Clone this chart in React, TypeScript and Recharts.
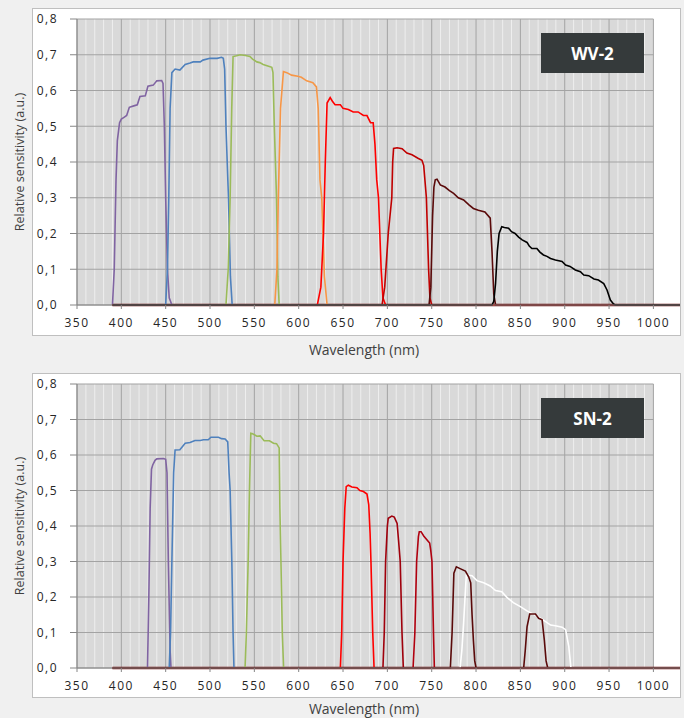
import React from 'react';
import { LineChart, Line, XAxis, YAxis, ReferenceLine, ReferenceArea } from 'recharts';

type Pt = [number, number];

const xTicks = [350, 400, 450, 500, 550, 600, 650, 700, 750, 800, 850, 900, 950, 1000];
const yTicks = [0, 0.1, 0.2, 0.3, 0.4, 0.5, 0.6, 0.7, 0.8];

// WV-2 bands [wavelength nm, relative sensitivity]
const wvCoastal: Pt[] = [[390,0],[392,0.1],[394,0.35],[395.5,0.46],[398,0.51],[400,0.52],[403,0.525],[406,0.53],[409,0.553],[414,0.557],[418,0.56],[421,0.583],[427,0.585],[430,0.612],[436,0.615],[440,0.627],[445.5,0.628],[447,0.62],[448.5,0.5],[450,0.3],[452,0.1],[454,0.02],[457,0],[1030,0]];
const wvBlue: Pt[] = [[390,0],[450,0],[452,0.1],[453.5,0.3],[455,0.55],[457,0.65],[460.6,0.66],[466,0.657],[472,0.673],[477.5,0.677],[481,0.68],[489,0.68],[492,0.685],[500,0.69],[508,0.69],[513,0.693],[515,0.69],[516.5,0.66],[518,0.5],[520.8,0.3],[523,0.08],[525,0],[1030,0]];
const wvGreen: Pt[] = [[390,0],[518,0],[520.5,0.1],[522.7,0.3],[524.5,0.55],[526,0.695],[530,0.697],[534,0.7],[540,0.698],[545,0.695],[548,0.688],[552.8,0.68],[556,0.678],[560,0.673],[566,0.668],[569.7,0.665],[571,0.65],[572.5,0.5],[575,0.3],[576.5,0.08],[578,0],[1030,0]];
const wvYellow: Pt[] = [[390,0],[573,0],[575.5,0.1],[577,0.3],[579.5,0.55],[582.8,0.653],[586.6,0.65],[592,0.643],[599,0.64],[603,0.637],[609,0.627],[616,0.622],[620,0.61],[622,0.55],[624,0.35],[626,0.3],[629,0.08],[632,0],[1030,0]];
const wvRed: Pt[] = [[390,0],[621,0],[625,0.05],[628,0.2],[630,0.4],[632,0.565],[635.5,0.58],[638,0.57],[641,0.56],[647,0.56],[650,0.55],[656,0.547],[661.5,0.54],[667,0.54],[673,0.53],[677,0.53],[681,0.51],[684,0.51],[686,0.45],[688,0.35],[690,0.3],[693,0.1],[695,0.02],[698,0],[1030,0]];
const wvRedEdge: Pt[] = [[390,0],[694,0],[697,0.05],[701,0.2],[705,0.3],[706,0.4],[707,0.438],[711,0.44],[716.6,0.437],[722,0.425],[727.8,0.42],[735,0.41],[739,0.405],[741,0.39],[744,0.3],[746.5,0.1],[748,0.02],[750,0],[1030,0]];
const wvNir1: Pt[] = [[390,0],[747,0],[749,0.05],[751,0.25],[752.5,0.33],[754,0.35],[756,0.352],[759.7,0.336],[765,0.33],[770,0.32],[774.7,0.312],[780,0.3],[786,0.294],[792,0.28],[797,0.27],[802.6,0.265],[810,0.26],[816,0.243],[818,0.15],[820,0.03],[822,0],[1030,0]];
const wvNir2: Pt[] = [[390,0],[818,0],[820,0.01],[822,0.06],[824,0.15],[826,0.2],[829,0.219],[832,0.217],[836.7,0.215],[840,0.205],[844,0.2],[848,0.19],[852,0.182],[857.5,0.175],[860,0.165],[863,0.158],[868.6,0.158],[872,0.148],[876,0.14],[880,0.136],[884,0.13],[889.5,0.126],[897,0.122],[901,0.112],[906,0.108],[912,0.098],[917.7,0.093],[921.5,0.084],[927,0.082],[933,0.073],[938,0.07],[944,0.06],[947.7,0.042],[951.5,0.014],[955,0.003],[957,0],[1030,0]];

// SN-2 bands
const snViolet: Pt[] = [[390,0],[429.5,0],[431,0.2],[432.5,0.45],[434,0.56],[435.4,0.572],[438,0.585],[440,0.589],[447.4,0.59],[450,0.588],[451.5,0.55],[453,0.3],[455,0.05],[456,0],[1030,0]];
const snBlue: Pt[] = [[390,0],[454,0],[455.5,0.1],[457,0.3],[459,0.55],[460.6,0.614],[466,0.615],[472,0.633],[477.5,0.635],[483,0.641],[489,0.641],[492.6,0.643],[498,0.643],[501,0.65],[509.5,0.65],[513,0.646],[517,0.645],[520,0.637],[521.5,0.55],[522.7,0.5],[524.6,0.3],[526,0.1],[527,0],[1030,0]];
const snGreen: Pt[] = [[390,0],[539.5,0],[541,0.1],[543,0.3],[544.5,0.5],[546,0.661],[548,0.66],[552.8,0.653],[556.5,0.654],[561,0.64],[567,0.64],[571.6,0.633],[575,0.632],[578,0.62],[578.8,0.45],[580,0.3],[581.5,0.1],[583,0],[1030,0]];
const snRed: Pt[] = [[390,0],[647,0],[648.5,0.1],[650,0.3],[652,0.45],[653.6,0.511],[656,0.515],[660,0.51],[665.7,0.508],[669,0.5],[673,0.497],[677,0.49],[679,0.46],[680.5,0.38],[681.5,0.3],[683.5,0.1],[685,0],[1030,0]];
const snRe1: Pt[] = [[390,0],[695,0],[696.5,0.1],[698,0.3],[700,0.4],[701,0.422],[705,0.428],[707.8,0.425],[711,0.407],[712.6,0.36],[714.5,0.3],[716.5,0.1],[718,0],[1030,0]];
const snRe2: Pt[] = [[390,0],[729,0],[731,0.1],[733,0.3],[735,0.37],[736,0.384],[738,0.384],[741,0.372],[745,0.36],[747.7,0.352],[749,0.33],[750.3,0.3],[752,0.1],[753,0],[1030,0]];
const snNirWide: Pt[] = [[390,0],[782,0],[784,0.05],[786,0.127],[789,0.262],[795.5,0.26],[801,0.246],[808.6,0.24],[816,0.231],[822,0.218],[829,0.215],[834.8,0.199],[842,0.184],[850,0.173],[857.5,0.161],[869,0.146],[876,0.135],[884,0.121],[889.5,0.119],[897,0.115],[901,0.108],[904.6,0.06],[907,0],[1030,0]];
const snNir1: Pt[] = [[390,0],[771,0],[773,0.1],[775,0.267],[777.8,0.285],[782,0.28],[788,0.273],[791.7,0.257],[794,0.24],[795.5,0.15],[797,0.079],[798.5,0.02],[800,0],[1030,0]];
const snNir2: Pt[] = [[390,0],[853.7,0],[855.5,0.05],[857.5,0.116],[860.5,0.152],[867,0.152],[870.6,0.14],[874.5,0.136],[877,0.079],[879,0.02],[880.8,0],[1030,0]];

type Series = { name: string; pts: Pt[]; color: string };

const wvSeries: Series[] = [
  { name: 'coastal', pts: wvCoastal, color: '#8064a2' },
  { name: 'blue', pts: wvBlue, color: '#4f81bd' },
  { name: 'green', pts: wvGreen, color: '#9bbb59' },
  { name: 'yellow', pts: wvYellow, color: '#f79646' },
  { name: 'red', pts: wvRed, color: '#ff0000' },
  { name: 'rededge', pts: wvRedEdge, color: '#c00000' },
  { name: 'nir1', pts: wvNir1, color: '#5a0a0a' },
  { name: 'nir2', pts: wvNir2, color: '#000000' },
];

const snSeries: Series[] = [
  { name: 'violet', pts: snViolet, color: '#8064a2' },
  { name: 'blue', pts: snBlue, color: '#4f81bd' },
  { name: 'green', pts: snGreen, color: '#9bbb59' },
  { name: 'red', pts: snRed, color: '#ff0000' },
  { name: 're1', pts: snRe1, color: '#a0000c' },
  { name: 're2', pts: snRe2, color: '#b0000f' },
  { name: 'nirwide', pts: snNirWide, color: '#ffffff' },
  { name: 'nir1', pts: snNir1, color: '#5a0a0a' },
  { name: 'nir2', pts: snNir2, color: '#5a0a0a' },
];

const minorX: number[] = [];
for (let v = 360; v < 1000; v += 10) if (v % 50 !== 0) minorX.push(v);

const FONT = '"Open Sans", "Noto Sans", sans-serif';
const fmtY = (v: number) => v.toFixed(1).replace('.', ',');

type PanelProps = {
  top: number;
  height: number;
  marginTop: number;
  marginBottom: number;
  series: Series[];
  badge: string;
  boxTop: number;
  boxHeight: number;
  badgeTop: number;
  yTitleY: number;
  xTitleY: number;
  baseColor: string;
};

function Panel(p: PanelProps) {
  return (
    <>
      <div style={{ position: 'absolute', left: 32, top: p.boxTop, width: 647, height: p.boxHeight - 1, background: '#ffffff', border: '1px solid #bfbfbf' }} />
      <div style={{ position: 'absolute', left: 0, top: p.top }}>
        <LineChart width={684} height={p.height} margin={{ top: p.marginTop, right: 4, bottom: p.marginBottom, left: 32 }}>
          <ReferenceArea x1={350} x2={1000} y1={0} y2={0.8} fill="#d9d9d9" fillOpacity={1} stroke="none" zIndex={-60} />
          {minorX.map((v) => (
            <ReferenceLine key={'m' + v} x={v} stroke="#eeeeee" strokeWidth={1} zIndex={-50} />
          ))}
          {xTicks.map((v) => (
            <ReferenceLine key={'M' + v} x={v} stroke="#a3a3a3" strokeWidth={1} zIndex={-40} />
          ))}
          {yTicks.map((v) => (
            <ReferenceLine key={'h' + v} segment={[{ x: 350, y: v }, { x: 1000, y: v }]} stroke="#a3a3a3" strokeWidth={1} zIndex={-40} />
          ))}
          <XAxis
            type="number"
            dataKey="x"
            domain={[350, 1030]}
            ticks={xTicks}
            height={30}
            tickSize={4}
            tickMargin={9}
            stroke="#868686"
            tick={{ fontSize: 12, fill: '#262626', fontFamily: FONT, letterSpacing: 1.5 }}
          />
          <YAxis
            type="number"
            domain={[0, 0.8]}
            ticks={yTicks}
            width={45}
            tickSize={7}
            tickMargin={12}
            stroke="#868686"
            tickFormatter={fmtY}
            tick={{ fontSize: 12, fill: '#262626', fontFamily: FONT, letterSpacing: 1.5 }}
          />
          <ReferenceLine segment={[{ x: 390, y: 0 }, { x: 1030, y: 0 }]} stroke={p.baseColor} strokeWidth={2.5} />
          {p.series.map((s) => (
            <Line
              key={s.name}
              data={s.pts.map(([x, y]) => ({ x, y }))}
              dataKey="y"
              type="linear"
              stroke={s.color}
              strokeWidth={1.6}
              dot={false}
              activeDot={false}
              isAnimationActive={false}
            />
          ))}
        </LineChart>
      </div>
      <div style={{ position: 'absolute', left: 541, top: p.badgeTop, width: 103, height: 40, background: '#353a3b', color: '#ffffff', fontFamily: FONT, fontWeight: 700, fontSize: 17, display: 'flex', alignItems: 'center', justifyContent: 'center' }}>
        {p.badge}
      </div>
      <div style={{ position: 'absolute', left: 20 - 100, top: p.yTitleY - 10, width: 200, height: 20, lineHeight: '20px', textAlign: 'center', transform: 'rotate(-90deg)', fontFamily: FONT, fontSize: 12.5, color: '#404040', whiteSpace: 'nowrap' }}>
        Relative sensitivity (a.u.)
      </div>
      <div style={{ position: 'absolute', left: 264, top: p.xTitleY - 10, width: 200, height: 20, lineHeight: '20px', textAlign: 'center', fontFamily: FONT, fontSize: 14, color: '#404040', whiteSpace: 'nowrap' }}>
        Wavelength (nm)
      </div>
    </>
  );
}

export default function App() {
  return (
    <div style={{ position: 'absolute', left: 0, top: 0, width: 684, height: 718, background: '#f0f0f0', overflow: 'hidden' }}>
      <Panel top={0} height={360} marginTop={19} marginBottom={25} series={wvSeries} badge="WV-2" boxTop={8} boxHeight={327} badgeTop={33} yTitleY={162} xTitleY={350} baseColor="#6b1010" />
      <Panel top={360} height={358} marginTop={24} marginBottom={20} series={snSeries} badge="SN-2" boxTop={373} boxHeight={324} badgeTop={398} yTitleY={526} xTitleY={709} baseColor="#7a1515" />
    </div>
  );
}
